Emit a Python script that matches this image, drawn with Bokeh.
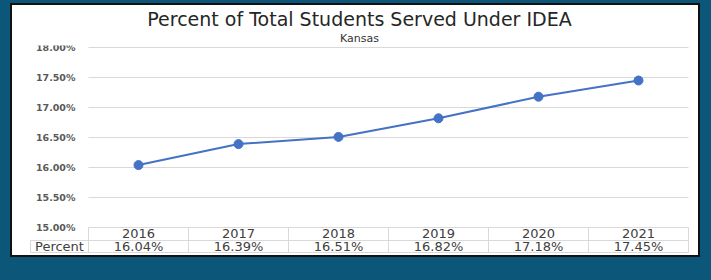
from bokeh.plotting import figure
from bokeh.models import Range1d, FixedTicker, PrintfTickFormatter, Title, ColumnDataSource
from bokeh.core.properties import value
from bokeh.embed import file_html
from bokeh.resources import INLINE

# ---- data ----
years = ["2016", "2017", "2018", "2019", "2020", "2021"]
percent = [16.04, 16.39, 16.51, 16.82, 17.18, 17.45]
y_ticks = [15.0, 15.5, 16.0, 16.5, 17.0, 17.5, 18.0]
row_label = "Percent"
title_text = "Percent of Total Students Served Under IDEA"
subtitle_text = "Kansas"

# ---- layout constants ----
FONT = "DejaVu Sans"
BLUE = "#4472c4"
GRID = "#d9d9d9"
TXT = "#404040"
BG = "#0b5679"
ROW_H1 = 13 / 60.0   # year row height in data units (60 px per 1%)
ROW_H2 = 25 / 60.0   # bottom of percent row
LABEL_LEFT = -1.08   # left edge of the row-label cell

xs = list(range(len(years)))
base = y_ticks[0]

p = figure(width=686, height=250, output_backend="svg", toolbar_location=None,
           x_range=Range1d(-1.09, 5.51), y_range=Range1d(14.55, 18.0333),
           min_border_left=17, min_border_right=9, min_border_bottom=1, min_border_top=40)
p.margin = (5, 0, 0, 12)
p.styles = {"outline": "2px solid #111111", "background-color": "white"}
p.background_fill_color = "white"
p.border_fill_color = "white"
p.outline_line_color = None
p.xgrid.visible = False
p.ygrid.visible = False
p.xaxis.visible = False

# titles
p.add_layout(Title(text=subtitle_text, align="center", text_font=FONT, text_font_size="11px",
                   text_font_style="normal", text_color="#333333", standoff=1, offset=-4), "above")
p.add_layout(Title(text=title_text, align="center", text_font=FONT, text_font_size="19px",
                   text_font_style="normal", text_color="#262626", standoff=0, offset=-4), "above")

# y axis drawn at plot-area edge
ya = p.yaxis[0]
ya.fixed_location = -0.5
ya.ticker = FixedTicker(ticks=y_ticks)
ya.formatter = PrintfTickFormatter(format="%.2f%%")
ya.axis_line_color = None
ya.major_tick_line_color = None
ya.minor_tick_line_color = None
ya.major_tick_out = 0
ya.major_tick_in = 0
ya.major_label_text_font = FONT
ya.major_label_text_font_size = "9.5px"
ya.major_label_text_font_style = "bold"
ya.major_label_text_color = "#595959"
ya.major_label_standoff = 13

# gridlines
n = len(years)
p.segment(x0=[-0.5] * len(y_ticks), x1=[n - 0.5] * len(y_ticks), y0=y_ticks, y1=y_ticks,
          line_color=GRID, line_width=1)

# data table
p.segment(x0=[LABEL_LEFT, LABEL_LEFT], x1=[n - 0.5, n - 0.5],
          y0=[base - ROW_H1, base - ROW_H2], y1=[base - ROW_H1, base - ROW_H2],
          line_color=GRID, line_width=1)
vx = [i - 0.5 for i in range(n + 1)]
p.segment(x0=vx, x1=vx, y0=[base - ROW_H2] * len(vx), y1=[base] * len(vx),
          line_color=GRID, line_width=1)
p.segment(x0=[LABEL_LEFT], x1=[LABEL_LEFT], y0=[base - ROW_H2], y1=[base - ROW_H1],
          line_color=GRID, line_width=1)

tsrc = ColumnDataSource(dict(x=xs, year=years, pct=["%.2f%%" % v for v in percent]))
p.text(x="x", y=base - ROW_H1 / 2, text="year", source=tsrc, text_align="center",
       text_baseline="middle", text_font=value(FONT), text_font_size="13px", text_color=TXT)
p.text(x="x", y=base - (ROW_H1 + ROW_H2) / 2, text="pct", source=tsrc, text_align="center",
       text_baseline="middle", text_font=value(FONT), text_font_size="13px", text_color=TXT)
p.text(x=[(LABEL_LEFT - 0.5) / 2], y=[base - (ROW_H1 + ROW_H2) / 2], text=[row_label],
       text_align="center", text_baseline="middle", text_font=value(FONT),
       text_font_size="13px", text_color=TXT)

# series
src = ColumnDataSource(dict(x=xs, y=percent))
p.line("x", "y", source=src, line_color=BLUE, line_width=2)
p.scatter("x", "y", source=src, size=9, fill_color=BLUE, line_color=BLUE)

html = file_html(p, INLINE)
html = html.replace("</head>", "<style>html,body{background:%s;}</style></head>" % BG, 1)
open("out.html", "w").write(html)
